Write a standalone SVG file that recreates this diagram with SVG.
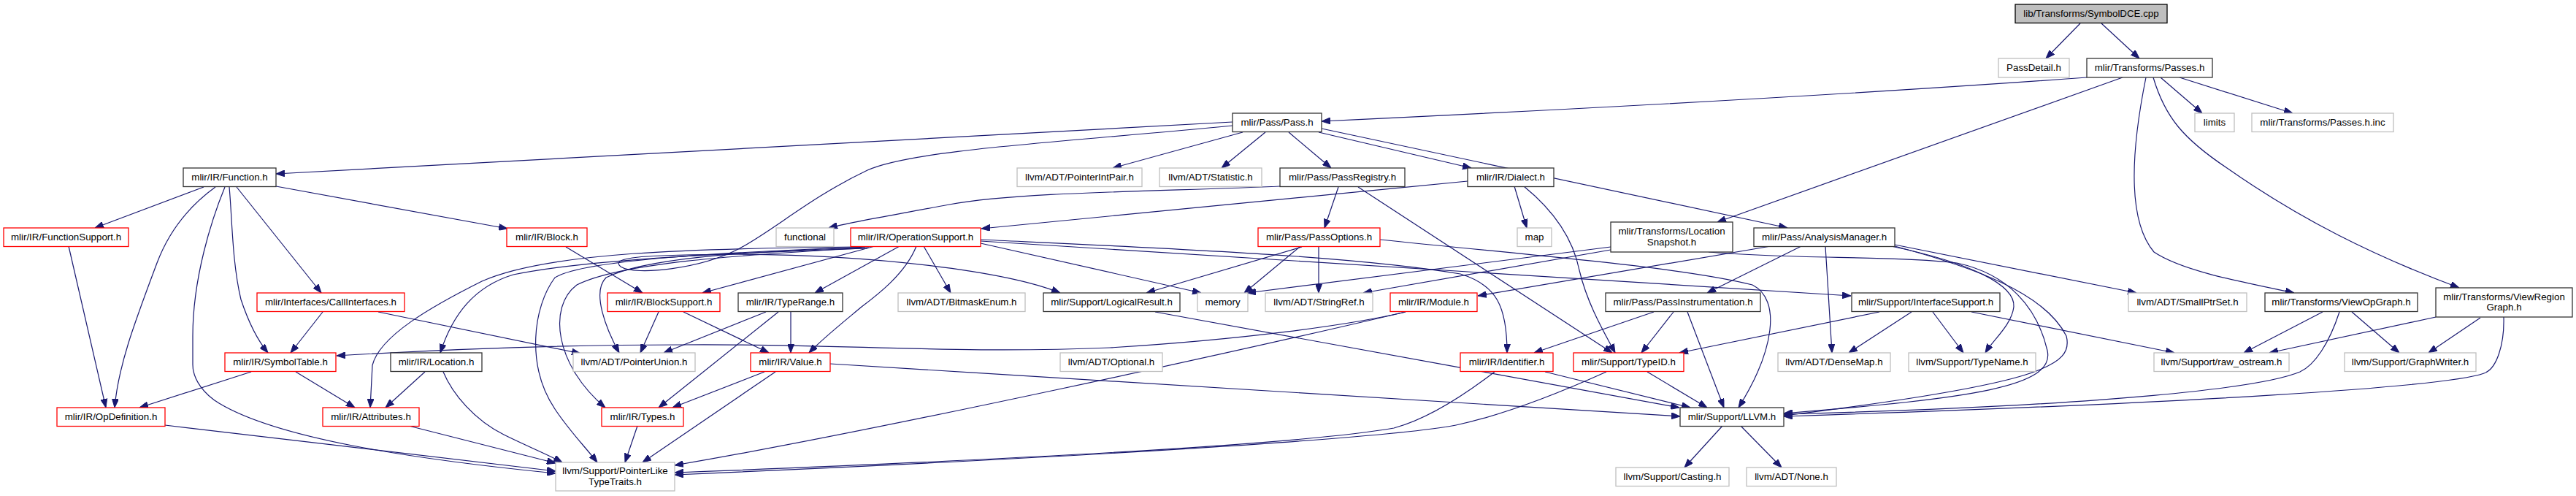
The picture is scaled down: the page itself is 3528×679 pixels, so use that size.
<svg xmlns="http://www.w3.org/2000/svg" width="3528" height="679" viewBox="0 0 3528 679">
<style>
rect{fill:#fff;stroke-width:1.3}
.k rect{stroke:#333}
.r rect{stroke:#ff0000}
.g rect{stroke:#bfbfbf}
.root rect{fill:#bfbfbf;stroke:#000}
text{font-family:"Liberation Sans",Arial,sans-serif;font-size:13.33px;text-anchor:middle;fill:#000}
.e path{fill:none;stroke:#191970;stroke-width:1.2;marker-end:url(#a)}
</style>
<defs>
<marker id="a" markerUnits="userSpaceOnUse" markerWidth="12" markerHeight="9" refX="12" refY="4.5" orient="auto">
<path d="M0,0 L12,4.5 L0,9 z" fill="#191970" stroke="#191970" stroke-width="1"/>
</marker>
</defs>
<rect x="0" y="0" width="3528" height="679" style="fill:#fff;stroke:none"/>
<g id="edges" class="e">
<path d="M2849,32 L2802,80"/>
<path d="M2878,32 L2930,80"/>
<path d="M2858,106 C2500,132 2150,150 1810,166"/>
<path d="M2907,106 L2352,304"/>
<path d="M2959,106 L3016,155"/>
<path d="M2985,106 L3140,155"/>
<path d="M2939,106 C2920,200 2912,300 2950,345 C2990,372 3080,388 3142,401"/>
<path d="M2949,106 C2965,160 2990,190 3050,230 C3150,300 3250,350 3368,394"/>
<path d="M1688,167 L378,238"/>
<path d="M1702,181 L1524,230"/>
<path d="M1733,181 L1673,230"/>
<path d="M1765,181 L1823,230"/>
<path d="M1806,181 L2015,230"/>
<path d="M1810,176 L2448,312"/>
<path d="M1688,172 C1450,195 1250,205 1188,233 C1110,270 1060,315 1013,340 C960,368 870,378 850,365 C835,352 880,349 1000,348 C1200,348 1380,372 1452,401"/>
<path d="M279,256 L130,312"/>
<path d="M378,255 L695,313"/>
<path d="M295,256 C255,285 230,320 215,360 C185,440 162,500 157,558"/>
<path d="M308,256 C290,300 264,380 264,460 L264,499 C264,520 280,540 300,552 C380,600 560,628 761,648"/>
<path d="M314,256 C318,300 318,360 330,410 C340,440 352,465 367,483"/>
<path d="M324,256 L440,401"/>
<path d="M94,337 L145,558"/>
<path d="M442,427 L398,483"/>
<path d="M518,427 L795,484"/>
<path d="M344,509 L191,558"/>
<path d="M405,509 L486,558"/>
<path d="M582,509 L528,558"/>
<path d="M607,509 C620,540 650,575 690,595 C720,610 750,622 770,633"/>
<path d="M226,582 L761,645"/>
<path d="M560,583 L761,634"/>
<path d="M775,338 L880,401"/>
<path d="M1198,337 L962,401"/>
<path d="M1232,337 L1116,401"/>
<path d="M1255,337 C1240,375 1200,405 1180,420 C1150,445 1125,465 1108,483"/>
<path d="M1188,340 C1050,345 820,352 703,376 C650,392 620,430 603,483"/>
<path d="M1175,338 C950,340 750,345 660,385 C590,420 520,460 510,500 L507,558"/>
<path d="M1180,339 C1000,345 880,355 830,380 C810,400 830,450 848,483"/>
<path d="M1185,339 C1000,350 850,360 790,390 C750,420 760,500 829,558"/>
<path d="M1190,338 C1000,345 800,355 760,380 C730,420 720,500 760,560 C780,590 800,610 818,633"/>
<path d="M1265,337 L1302,401"/>
<path d="M1343,333 L1645,401"/>
<path d="M1343,328 C1600,340 1850,350 2000,375 C2050,390 2064,420 2064,483"/>
<path d="M1343,330 L2535,405"/>
<path d="M2010,248 L1344,313"/>
<path d="M2074,255 L2091,312"/>
<path d="M2087,255 C2130,290 2155,330 2163,370 C2175,420 2200,460 2212,483"/>
<path d="M1753,255 C1600,262 1400,262 1300,280 C1220,295 1160,305 1135,312"/>
<path d="M1833,256 L1814,312"/>
<path d="M1860,256 L2208,483"/>
<path d="M1806,337 L1806,401"/>
<path d="M1783,338 L1570,401"/>
<path d="M1780,338 L1704,401"/>
<path d="M1890,328 C2100,350 2300,365 2400,390 C2440,410 2430,480 2381,558"/>
<path d="M2206,338 L1708,401"/>
<path d="M2206,342 L1867,401"/>
<path d="M2340,345 C2450,355 2600,350 2680,360 C2750,375 2790,420 2804,480 C2815,530 2700,545 2443,566"/>
<path d="M2425,337 L2024,405"/>
<path d="M2467,337 L2338,401"/>
<path d="M2500,337 L2509,483"/>
<path d="M2590,337 C2700,360 2760,390 2758,420 C2755,445 2730,465 2719,483"/>
<path d="M2595,335 L2926,401"/>
<path d="M2595,337 C2700,365 2800,400 2830,460 C2840,500 2800,525 2443,569"/>
<path d="M2265,427 L2101,483"/>
<path d="M2292,427 L2248,483"/>
<path d="M2311,427 L2361,558"/>
<path d="M2574,427 L2300,483"/>
<path d="M2618,427 L2532,483"/>
<path d="M2647,427 L2689,483"/>
<path d="M2700,427 L2978,483"/>
<path d="M2256,509 L2338,558"/>
<path d="M2200,509 C2120,545 2050,570 1994,582 C1900,600 1500,625 924,650"/>
<path d="M2047,509 C2000,545 1950,575 1909,586 C1800,605 1500,625 924,647"/>
<path d="M2116,509 L2315,558"/>
<path d="M1925,427 C1850,445 1700,465 1520,476 C1300,485 1150,470 932,472 C800,472 650,476 461,487"/>
<path d="M1925,427 C1700,480 1200,590 924,637"/>
<path d="M1137,498 L2301,570"/>
<path d="M1582,427 L2300,558"/>
<path d="M1047,509 L921,558"/>
<path d="M1062,509 L880,633"/>
<path d="M873,583 L856,633"/>
<path d="M1049,427 L909,483"/>
<path d="M1066,427 L902,558"/>
<path d="M1083,427 L1083,483"/>
<path d="M902,427 L877,483"/>
<path d="M936,427 L1053,483"/>
<path d="M2359,583 L2307,640"/>
<path d="M2384,583 L2440,640"/>
<path d="M3181,427 L3073,483"/>
<path d="M3221,427 L3286,483"/>
<path d="M3204,427 C3190,470 3170,500 3150,509 C3100,530 2900,555 2443,567"/>
<path d="M3336,434 L3108,483"/>
<path d="M3397,435 L3326,483"/>
<path d="M3429,434 C3430,470 3420,505 3402,511 C3350,530 3000,552 2443,570"/>
</g>
<g id="n0" class="root"><rect x="2760" y="6" width="208" height="25.5"/><text x="2864" y="23">lib/Transforms/SymbolDCE.cpp</text></g>
<g id="n1" class="g"><rect x="2737" y="80" width="97" height="26"/><text x="2785.5" y="97">PassDetail.h</text></g>
<g id="n2" class="k"><rect x="2858" y="80" width="172" height="26"/><text x="2944" y="97">mlir/Transforms/Passes.h</text></g>
<g id="n3" class="k"><rect x="1688" y="155" width="122" height="25.5"/><text x="1749" y="172">mlir/Pass/Pass.h</text></g>
<g id="n4" class="g"><rect x="3006" y="155" width="54" height="25.5"/><text x="3033" y="172">limits</text></g>
<g id="n5" class="g"><rect x="3084" y="155" width="194" height="25.5"/><text x="3181" y="172">mlir/Transforms/Passes.h.inc</text></g>
<g id="n6" class="k"><rect x="251" y="230" width="127" height="25.5"/><text x="314.5" y="247">mlir/IR/Function.h</text></g>
<g id="n7" class="g"><rect x="1393" y="230" width="171" height="25.5"/><text x="1478.5" y="247">llvm/ADT/PointerIntPair.h</text></g>
<g id="n8" class="g"><rect x="1588" y="230" width="140" height="25.5"/><text x="1658" y="247">llvm/ADT/Statistic.h</text></g>
<g id="n9" class="k"><rect x="1753" y="230" width="171" height="25.5"/><text x="1838.5" y="247">mlir/Pass/PassRegistry.h</text></g>
<g id="n10" class="k"><rect x="2010" y="230" width="118" height="25.5"/><text x="2069" y="247">mlir/IR/Dialect.h</text></g>
<g id="n11" class="r"><rect x="5" y="312" width="171" height="25.5"/><text x="90.5" y="329">mlir/IR/FunctionSupport.h</text></g>
<g id="n12" class="r"><rect x="694" y="312" width="110" height="25.5"/><text x="749" y="329">mlir/IR/Block.h</text></g>
<g id="n13" class="g"><rect x="1063" y="312" width="79" height="25.5"/><text x="1102.5" y="329">functional</text></g>
<g id="n14" class="r"><rect x="1165" y="312" width="178" height="25.5"/><text x="1254" y="329">mlir/IR/OperationSupport.h</text></g>
<g id="n15" class="r"><rect x="1723" y="312" width="167" height="25.5"/><text x="1806.5" y="329">mlir/Pass/PassOptions.h</text></g>
<g id="n16" class="g"><rect x="2078" y="312" width="47" height="25.5"/><text x="2101.5" y="329">map</text></g>
<g id="n17" class="k"><rect x="2206" y="304" width="167" height="41"/><text x="2289.5" y="321">mlir/Transforms/Location</text><text x="2289.5" y="335.5">Snapshot.h</text></g>
<g id="n18" class="k"><rect x="2402" y="312" width="193" height="25.5"/><text x="2498.5" y="329">mlir/Pass/AnalysisManager.h</text></g>
<g id="n19" class="r"><rect x="352" y="401" width="202" height="25.5"/><text x="453" y="418">mlir/Interfaces/CallInterfaces.h</text></g>
<g id="n20" class="r"><rect x="832" y="401" width="154" height="25.5"/><text x="909" y="418">mlir/IR/BlockSupport.h</text></g>
<g id="n21" class="k"><rect x="1011" y="401" width="143" height="25.5"/><text x="1082.5" y="418">mlir/IR/TypeRange.h</text></g>
<g id="n22" class="g"><rect x="1230" y="401" width="174" height="25.5"/><text x="1317" y="418">llvm/ADT/BitmaskEnum.h</text></g>
<g id="n23" class="k"><rect x="1429" y="401" width="187" height="25.5"/><text x="1522.5" y="418">mlir/Support/LogicalResult.h</text></g>
<g id="n24" class="g"><rect x="1640" y="401" width="69" height="25.5"/><text x="1674.5" y="418">memory</text></g>
<g id="n25" class="g"><rect x="1733" y="401" width="147" height="25.5"/><text x="1806.5" y="418">llvm/ADT/StringRef.h</text></g>
<g id="n26" class="r"><rect x="1904" y="401" width="119" height="25.5"/><text x="1963.5" y="418">mlir/IR/Module.h</text></g>
<g id="n27" class="k"><rect x="2199" y="401" width="212" height="25.5"/><text x="2305" y="418">mlir/Pass/PassInstrumentation.h</text></g>
<g id="n28" class="k"><rect x="2536" y="401" width="203" height="25.5"/><text x="2637.5" y="418">mlir/Support/InterfaceSupport.h</text></g>
<g id="n29" class="g"><rect x="2915" y="401" width="162" height="25.5"/><text x="2996" y="418">llvm/ADT/SmallPtrSet.h</text></g>
<g id="n30" class="k"><rect x="3102" y="401" width="209" height="25.5"/><text x="3206.5" y="418">mlir/Transforms/ViewOpGraph.h</text></g>
<g id="n31" class="k"><rect x="3336" y="394" width="187" height="40"/><text x="3429.5" y="410.5">mlir/Transforms/ViewRegion</text><text x="3429.5" y="425">Graph.h</text></g>
<g id="n32" class="r"><rect x="308" y="483" width="152" height="25.5"/><text x="384" y="500">mlir/IR/SymbolTable.h</text></g>
<g id="n33" class="k"><rect x="535" y="483" width="125" height="25.5"/><text x="597.5" y="500">mlir/IR/Location.h</text></g>
<g id="n34" class="g"><rect x="785" y="483" width="167" height="25.5"/><text x="868.5" y="500">llvm/ADT/PointerUnion.h</text></g>
<g id="n35" class="r"><rect x="1028" y="483" width="109" height="25.5"/><text x="1082.5" y="500">mlir/IR/Value.h</text></g>
<g id="n36" class="g"><rect x="1452" y="483" width="140" height="25.5"/><text x="1522" y="500">llvm/ADT/Optional.h</text></g>
<g id="n37" class="r"><rect x="2000" y="483" width="127" height="25.5"/><text x="2063.5" y="500">mlir/IR/Identifier.h</text></g>
<g id="n38" class="r"><rect x="2155" y="483" width="151" height="25.5"/><text x="2230.5" y="500">mlir/Support/TypeID.h</text></g>
<g id="n39" class="g"><rect x="2435" y="483" width="154" height="25.5"/><text x="2512" y="500">llvm/ADT/DenseMap.h</text></g>
<g id="n40" class="g"><rect x="2614" y="483" width="174" height="25.5"/><text x="2701" y="500">llvm/Support/TypeName.h</text></g>
<g id="n41" class="g"><rect x="2950" y="483" width="185" height="25.5"/><text x="3042.5" y="500">llvm/Support/raw_ostream.h</text></g>
<g id="n42" class="g"><rect x="3211" y="483" width="180" height="25.5"/><text x="3301" y="500">llvm/Support/GraphWriter.h</text></g>
<g id="n43" class="r"><rect x="78" y="558" width="148" height="25.5"/><text x="152" y="575">mlir/IR/OpDefinition.h</text></g>
<g id="n44" class="r"><rect x="442" y="558" width="132" height="25.5"/><text x="508" y="575">mlir/IR/Attributes.h</text></g>
<g id="n45" class="r"><rect x="824" y="558" width="112" height="25.5"/><text x="880" y="575">mlir/IR/Types.h</text></g>
<g id="n46" class="k"><rect x="2301" y="558" width="142" height="25.5"/><text x="2372" y="575">mlir/Support/LLVM.h</text></g>
<g id="n47" class="g"><rect x="761" y="633" width="163" height="39"/><text x="842.5" y="649">llvm/Support/PointerLike</text><text x="842.5" y="664">TypeTraits.h</text></g>
<g id="n48" class="g"><rect x="2213" y="640" width="155" height="25.5"/><text x="2290.5" y="657">llvm/Support/Casting.h</text></g>
<g id="n49" class="g"><rect x="2392" y="640" width="123" height="25.5"/><text x="2453.5" y="657">llvm/ADT/None.h</text></g>
</svg>
